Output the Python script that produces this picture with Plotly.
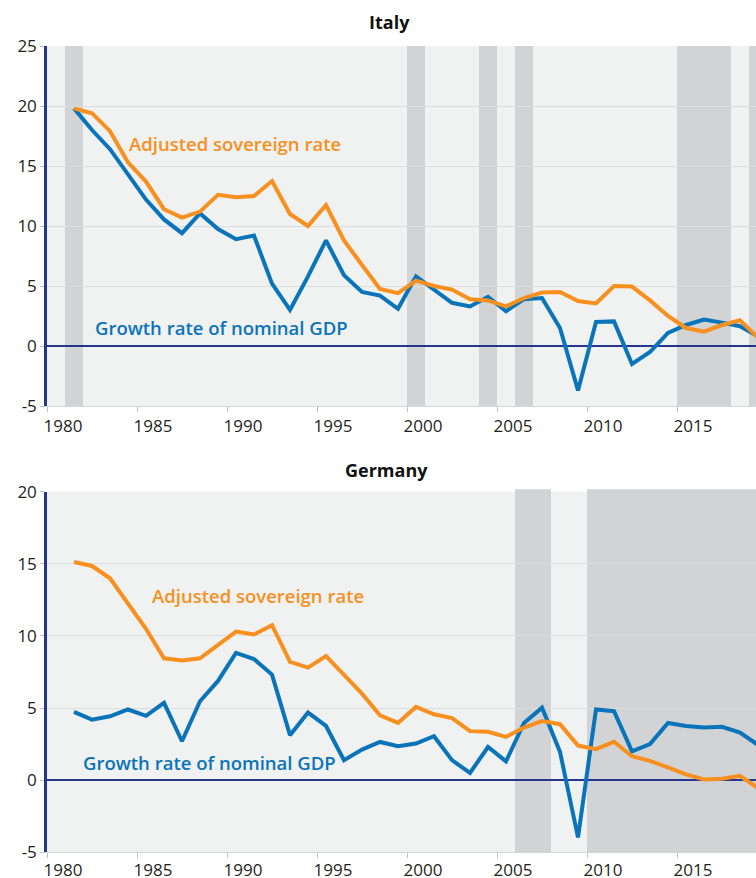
import plotly.graph_objects as go

years = list(range(1981, 2020))

italy_sovereign = [19.8, 19.4, 17.9, 15.3, 13.7, 11.4, 10.7, 11.2, 12.6, 12.4,
                   12.5, 13.75, 11.0, 10.0, 11.75, 8.8, 6.75, 4.75, 4.4, 5.45,
                   5.0, 4.7, 3.9, 3.8, 3.3, 4.0, 4.45, 4.5, 3.75, 3.55,
                   5.0, 4.95, 3.8, 2.5, 1.5, 1.2, 1.75, 2.15, 0.7]
italy_growth = [19.8, 18.0, 16.4, 14.3, 12.2, 10.55, 9.4, 11.05, 9.75, 8.9,
                9.2, 5.2, 3.0, 5.8, 8.8, 5.9, 4.5, 4.2, 3.1, 5.8,
                4.7, 3.6, 3.3, 4.1, 2.9, 3.9, 4.0, 1.5, -3.7, 2.0,
                2.05, -1.5, -0.5, 1.1, 1.75, 2.2, 1.95, 1.65, 0.8]

germany_sovereign = [15.13, 14.85, 14.0, 12.2, 10.5, 8.45, 8.3, 8.45, 9.35, 10.3,
                     10.1, 10.75, 8.2, 7.8, 8.6, 7.3, 6.0, 4.5, 3.97, 5.08,
                     4.57, 4.3, 3.4, 3.35, 3.0, 3.65, 4.1, 3.88, 2.4, 2.15,
                     2.66, 1.66, 1.34, 0.88, 0.4, 0.05, 0.1, 0.3, -0.55]
germany_growth = [4.73, 4.2, 4.43, 4.9, 4.46, 5.36, 2.7, 5.47, 6.88, 8.82,
                  8.4, 7.32, 3.12, 4.69, 3.76, 1.39, 2.12, 2.65, 2.35, 2.54,
                  3.05, 1.39, 0.5, 2.3, 1.3, 3.97, 5.03, 1.96, -3.97, 4.9,
                  4.78, 2.0, 2.5, 3.97, 3.76, 3.65, 3.7, 3.3, 2.45]

italy_shade_start = [1981, 2000, 2004, 2006, 2015, 2019]
italy_shade_end = [1982, 2001, 2005, 2007, 2018, 2021]
germany_shade_start = [2006, 2010]
germany_shade_end = [2008, 2021]

x_ticks = [1980, 1985, 1990, 1995, 2000, 2005, 2010, 2015]
italy_yticks = [-5, 0, 5, 10, 15, 20, 25]
italy_yticklabels = ["-5", "0", "5", "10", "15", "20", "25"]
germany_yticks = [-5, 0, 5, 10, 15, 20]
germany_yticklabels = ["-5", "0", "5", "10", "15", "20"]

BLUE = "#0A74BA"
ORANGE = "#F7901E"
NAVY = "#25368C"
BG = "#F0F1F1"
SHADE = "#D2D3D4"
GRID = "#DCDDDE"
FONT = "Open Sans"

mid = [y + 0.5 for y in years]

fig = go.Figure()
fig.add_trace(go.Scatter(x=mid, y=italy_growth, mode="lines", line=dict(color=BLUE, width=4),
                         xaxis="x", yaxis="y", showlegend=False))
fig.add_trace(go.Scatter(x=mid, y=italy_sovereign, mode="lines", line=dict(color=ORANGE, width=4),
                         xaxis="x", yaxis="y", showlegend=False))
fig.add_trace(go.Scatter(x=mid, y=germany_growth, mode="lines", line=dict(color=BLUE, width=4),
                         xaxis="x2", yaxis="y2", showlegend=False))
fig.add_trace(go.Scatter(x=mid, y=germany_sovereign, mode="lines", line=dict(color=ORANGE, width=4),
                         xaxis="x2", yaxis="y2", showlegend=False))

shapes = []
for s, e in zip(italy_shade_start, italy_shade_end):
    shapes.append(dict(type="rect", xref="x", yref="y domain", x0=s, x1=e, y0=0, y1=1,
                       fillcolor=SHADE, line=dict(width=0), layer="below"))
for s, e in zip(germany_shade_start, germany_shade_end):
    shapes.append(dict(type="rect", xref="x2", yref="y2 domain", x0=s, x1=e, y0=0, y1=1.007,
                       fillcolor=SHADE, line=dict(width=0), layer="below"))

xr = [1980, 1980 + 709 / 18]
xaxis_common = dict(range=xr, tickvals=x_ticks, ticks="outside", ticklen=5, tickcolor="#BDBFC1",
                    showgrid=False, zeroline=False, showline=True, linecolor="#D4D6D7", linewidth=1,
                    ticklabelshift=16, automargin=False,
                    tickfont=dict(family=FONT, size=17, color="#231F20"), fixedrange=True)
yaxis_common = dict(ticks="outside", ticklen=4, tickcolor="#BDBFC1", showgrid=True, gridcolor=GRID,
                    gridwidth=1, zeroline=True, zerolinecolor=NAVY, zerolinewidth=2,
                    showline=True, linecolor=NAVY, linewidth=2.5, automargin=False,
                    tickfont=dict(family=FONT, size=17, color="#231F20"), fixedrange=True)

fig.update_layout(
    width=756, height=878,
    autosize=False,
    margin=dict(l=47, r=0, t=0, b=0, pad=0, autoexpand=False),
    paper_bgcolor="white", plot_bgcolor=BG,
    xaxis=dict(domain=[0, 1], anchor="y", **xaxis_common),
    yaxis=dict(domain=[1 - 406 / 878, 1 - 46 / 878], range=[-5, 25], tickvals=italy_yticks,
               ticktext=italy_yticklabels, anchor="x", **yaxis_common),
    xaxis2=dict(domain=[0, 1], anchor="y2", ticklabelstandoff=-3, **xaxis_common),
    yaxis2=dict(domain=[1 - 852.3 / 878, 1 - 491.7 / 878], range=[-5, 20], tickvals=germany_yticks,
                ticktext=germany_yticklabels, anchor="x2", **yaxis_common),
    shapes=shapes,
    annotations=[
        dict(text="<b>Italy</b>", xref="paper", yref="paper", x=(389 - 47) / 709, y=1 - 22 / 878,
             yanchor="middle", showarrow=False, font=dict(family=FONT, size=18, color="#111111")),
        dict(text="<b>Germany</b>", xref="paper", yref="paper", x=(386 - 47) / 709, y=1 - 470 / 878,
             yanchor="middle", showarrow=False, font=dict(family=FONT, size=18, color="#111111")),
        dict(text="Adjusted sovereign rate", xref="x", yref="y", x=1990.43, y=16.9, showarrow=False,
             font=dict(family=FONT, size=18.5, color=ORANGE, weight=600)),
        dict(text="Growth rate of nominal GDP", xref="x", yref="y", x=1989.68, y=1.58, showarrow=False,
             font=dict(family=FONT, size=18.5, color=BLUE, weight=600)),
        dict(text="Adjusted sovereign rate", xref="x2", yref="y2", x=1991.73, y=12.77, showarrow=False,
             font=dict(family=FONT, size=18.5, color=ORANGE, weight=600)),
        dict(text="Growth rate of nominal GDP", xref="x2", yref="y2", x=1989.01, y=1.2, showarrow=False,
             font=dict(family=FONT, size=18.5, color=BLUE, weight=600)),
    ],
)

fig.write_html("out.html", config={"displayModeBar": False},
               post_script="document.body.style.margin='0';document.body.style.overflow='hidden';")
